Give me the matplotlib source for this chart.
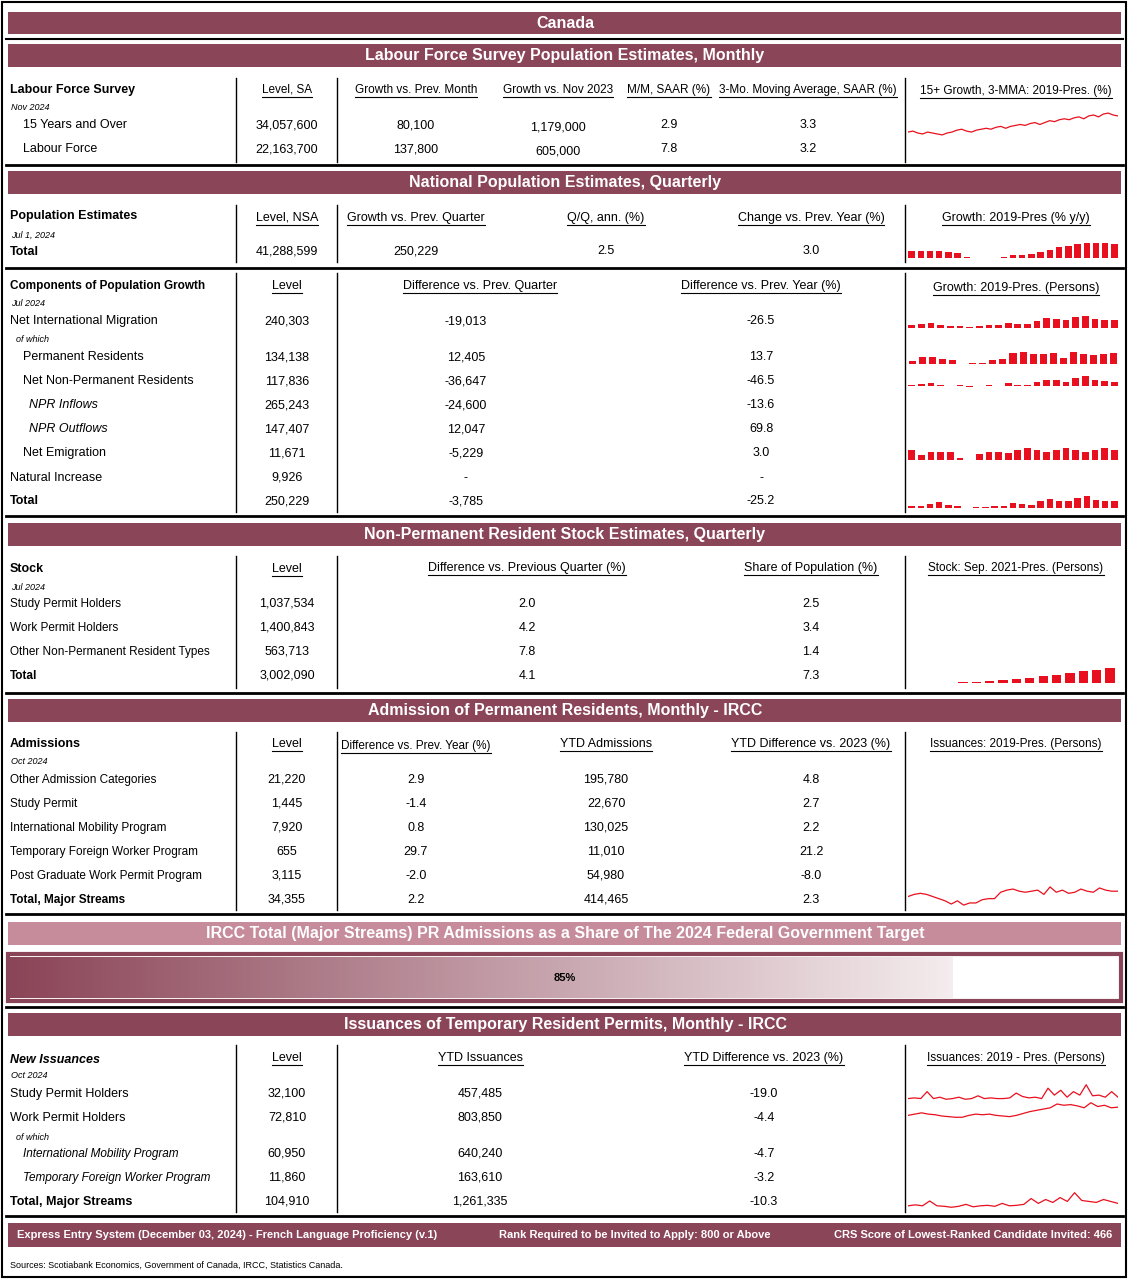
import numpy as np
import matplotlib.pyplot as plt
from matplotlib.colors import LinearSegmentedColormap
from matplotlib.patches import Rectangle

plt.rcParams['font.family'] = ['Liberation Sans', 'DejaVu Sans']

W, H = 1129, 1280
DARK = '#8B4558'
LIGHT = '#C68C9C'
RED = '#E8101E'
FS = 9

# ---- data ----
lfs_rows = ['15 Years and Over', 'Labour Force']
lfs_level = ['34,057,600', '22,163,700']
lfs_mom = ['80,100', '137,800']
lfs_nov = ['1,179,000', '605,000']
lfs_saar = ['2.9', '7.8']
lfs_mma = ['3.3', '3.2']
lfs_spark = [1.6, 1.7, 1.5, 1.4, 1.6, 1.5, 1.4, 1.3, 1.5, 1.6, 1.8, 1.9, 1.7, 1.6, 1.8, 1.9,
             2.0, 1.9, 2.1, 2.2, 2.0, 2.2, 2.3, 2.4, 2.3, 2.5, 2.6, 2.4, 2.6, 2.8, 2.7, 2.9,
             3.0, 2.9, 3.1, 3.2, 3.0, 3.3, 3.4, 3.2, 3.5, 3.6, 3.4, 3.3]

pop_growth_yy = [1.4, 1.4, 1.4, 1.5, 1.3, 1.1, 0.3, 0.05, 0.0, 0.0, 0.2, 0.6, 0.7, 0.9,
                 1.3, 1.7, 2.3, 2.6, 2.9, 3.2, 3.2, 3.2, 3.0]

comp_rows = ['Net International Migration', 'of which', 'Permanent Residents',
             'Net Non-Permanent Residents', 'NPR Inflows', 'NPR Outflows',
             'Net Emigration', 'Natural Increase', 'Total']
comp_level = ['240,303', '', '134,138', '117,836', '265,243', '147,407', '11,671', '9,926', '250,229']
comp_dq = ['-19,013', '', '12,405', '-36,647', '-24,600', '12,047', '-5,229', '-', '-3,785']
comp_dy = ['-26.5', '', '13.7', '-46.5', '-13.6', '69.8', '3.0', '-', '-25.2']
spark_nim = [4, 5, 6, 4, 3, 2, 1, 3, 4, 4, 7, 5, 5, 9, 13, 11, 10, 14, 16, 11, 10, 10]
spark_pr = [4, 8, 9, 6, 5, 0, 1, 1, 5, 6, 13, 14, 12, 12, 13, 7, 15, 12, 11, 12, 13]
spark_npr = [1, 2, 3, 1, 0, 1, -2, 0, 1, 0, 3, 1, 1, 5, 7, 7, 4, 9, 12, 7, 6, 5]
spark_emig = [10, 5, 8, 8, 8, 2, 0, 6, 8, 8, 7, 10, 13, 10, 8, 10, 13, 10, 8, 10, 13, 10]
spark_total = [2, 3, 5, 7, 4, 3, 0, 1, 1, 2, 3, 6, 5, 4, 9, 11, 9, 8, 12, 15, 10, 9, 9]

npr_rows = ['Study Permit Holders', 'Work Permit Holders', 'Other Non-Permanent Resident Types', 'Total']
npr_level = ['1,037,534', '1,400,843', '563,713', '3,002,090']
npr_diff = ['2.0', '4.2', '7.8', '4.1']
npr_share = ['2.5', '3.4', '1.4', '7.3']
npr_stock = [0.3, 0.4, 0.6, 0.8, 1.2, 1.5, 2.0, 2.4, 2.9, 3.4, 3.8, 4.2]

adm_rows = ['Other Admission Categories', 'Study Permit', 'International Mobility Program',
            'Temporary Foreign Worker Program', 'Post Graduate Work Permit Program', 'Total, Major Streams']
adm_level = ['21,220', '1,445', '7,920', '655', '3,115', '34,355']
adm_diff = ['2.9', '-1.4', '0.8', '29.7', '-2.0', '2.2']
adm_ytd = ['195,780', '22,670', '130,025', '11,010', '54,980', '414,465']
adm_ytdd = ['4.8', '2.7', '2.2', '21.2', '-8.0', '2.3']
adm_spark = [26, 28, 29, 28, 26, 24, 22, 19, 22, 18, 20, 20, 23, 24, 24, 30, 32, 33, 31, 30,
             31, 32, 28, 35, 30, 32, 29, 30, 33, 31, 30, 34, 32, 31, 31]
target_share = 85

iss_rows = ['Study Permit Holders', 'Work Permit Holders', 'of which', 'International Mobility Program',
            'Temporary Foreign Worker Program', 'Total, Major Streams']
iss_level = ['32,100', '72,810', '', '60,950', '11,860', '104,910']
iss_ytd = ['457,485', '803,850', '', '640,240', '163,610', '1,261,335']
iss_ytdd = ['-19.0', '-4.4', '', '-4.7', '-3.2', '-10.3']
iss_study = [20, 21, 20, 30, 20, 22, 19, 20, 22, 19, 20, 24, 20, 21, 20, 20, 21, 28, 23, 21, 22,
             20, 35, 25, 32, 22, 30, 25, 40, 24, 25, 22, 30, 22]
iss_work = [40, 42, 44, 42, 41, 39, 38, 37, 37, 40, 42, 41, 42, 40, 39, 38, 40, 43, 46, 48, 50,
            52, 58, 56, 57, 55, 52, 60, 54, 56, 52, 53]
iss_total = [55, 57, 55, 65, 55, 54, 52, 54, 58, 53, 55, 56, 54, 60, 55, 56, 58, 70, 60, 68, 62,
             72, 64, 82, 66, 64, 62, 68, 64, 60]

# ---- figure ----
fig = plt.figure(figsize=(W / 100, H / 100), dpi=100)
ax = fig.add_axes([0, 0, 1, 1])
ax.set_xlim(0, W)
ax.set_ylim(H, 0)
ax.axis('off')

ax.add_patch(Rectangle((2, 2), W - 5, H - 5, fill=False, lw=1.5, ec='black'))

underlined = []


def band(y0, y1, text, color=DARK):
    ax.add_patch(Rectangle((8, y0), 1113, y1 - y0, color=color, lw=0))
    ax.text(565, (y0 + y1) / 2, text, color='white', ha='center', va='center',
            fontsize=11.5, fontweight='bold')


def hline(y, lw=2):
    ax.plot([6, 1123], [y, y], color='black', lw=lw)


def vlines(y0, y1, xs=(236, 337, 905)):
    for x in xs:
        ax.plot([x, x], [y0, y1], color='black', lw=1)


def head(x, y, s, fs=FS):
    t = ax.text(x, y, s, ha='center', va='center', fontsize=fs)
    underlined.append(t)


def txt(x, y, s, ha='center', **kw):
    kw.setdefault('fontsize', FS)
    ax.text(x, y, s, ha=ha, va='center', **kw)


def spark_axes(x0, y0, x1, y1):
    a = fig.add_axes([x0 / W, 1 - y1 / H, (x1 - x0) / W, (y1 - y0) / H])
    a.axis('off')
    return a


def bars(a, vals):
    a.bar(range(len(vals)), vals, width=0.7, color=RED)
    a.set_xlim(-0.6, len(vals) - 0.4)


def line(a, vals):
    a.plot(range(len(vals)), vals, color=RED, lw=0.9)
    a.set_xlim(0, len(vals) - 1)


band(12, 34, 'Canada')
ax.plot([6, 1123], [39, 39], color='black', lw=1.5)
band(44, 67, 'Labour Force Survey Population Estimates, Monthly')

# LFS
vlines(78, 162)
txt(10, 90, 'Labour Force Survey', ha='left', fontweight='bold')
txt(11, 108, 'Nov 2024', ha='left', fontsize=6.5, style='italic')
for h, x in zip(['Level, SA', 'Growth vs. Prev. Month', 'Growth vs. Nov 2023', 'M/M, SAAR (%)',
                 '3-Mo. Moving Average, SAAR (%)'], [287, 416, 558, 669, 808]):
    head(x, 90, h, fs=8.5)
head(1016, 91, '15+ Growth, 3-MMA: 2019-Pres. (%)', fs=8.5)
for i, y in enumerate([125, 149]):
    txt(23, y, lfs_rows[i], ha='left')
    txt(287, y, lfs_level[i])
    txt(416, y, lfs_mom[i])
    txt(558, y + 2, lfs_nov[i])
    txt(669, y, lfs_saar[i])
    txt(808, y, lfs_mma[i])
line(spark_axes(908, 112, 1118, 136), lfs_spark)
hline(165)

band(171, 194, 'National Population Estimates, Quarterly')
vlines(205, 262)
txt(10, 216, 'Population Estimates', ha='left', fontweight='bold')
txt(11, 235, 'Jul 1, 2024', ha='left', fontsize=6.5, style='italic')
for h, x in zip(['Level, NSA', 'Growth vs. Prev. Quarter', 'Q/Q, ann. (%)', 'Change vs. Prev. Year (%)'],
                [287, 416, 606, 811]):
    head(x, 218, h)
head(1016, 218, 'Growth: 2019-Pres (% y/y)')
txt(10, 252, 'Total', ha='left', fontweight='bold')
txt(287, 252, '41,288,599')
txt(416, 252, '250,229')
txt(606, 251, '2.5')
txt(811, 251, '3.0')
bars(spark_axes(906, 242, 1120, 258), pop_growth_yy)
hline(268)

vlines(273, 512)
txt(10, 286, 'Components of Population Growth', ha='left', fontweight='bold', fontsize=8.5)
txt(11, 304, 'Jul 2024', ha='left', fontsize=6.5, style='italic')
head(287, 286, 'Level')
head(480, 286, 'Difference vs. Prev. Quarter')
head(761, 286, 'Difference vs. Prev. Year (%)')
head(1016, 288, 'Growth: 2019-Pres. (Persons)')
comp_y = [321, 340, 357, 381, 405, 429, 453, 478, 501]
for i, y in enumerate(comp_y):
    name = comp_rows[i]
    if name == 'of which':
        txt(16, y, name, ha='left', fontsize=6.5, style='italic')
        continue
    if name in ('Net International Migration', 'Natural Increase'):
        x0, kw = 10, {}
    elif name == 'Total':
        x0, kw = 10, {'fontweight': 'bold'}
    elif name.startswith('NPR'):
        x0, kw = 29, {'style': 'italic'}
    else:
        x0, kw = 23, {}
    txt(x0, y, name, ha='left', **kw)
    txt(287, y, comp_level[i])
    txt(466, y, comp_dq[i])
    txt(761, y, comp_dy[i])
for vals, y in zip([spark_nim, spark_pr, spark_npr, spark_emig, spark_total], [321, 357, 381, 453, 501]):
    bars(spark_axes(906, y - 6, 1120, y + 7), vals)
hline(516)

band(523, 546, 'Non-Permanent Resident Stock Estimates, Quarterly')
vlines(556, 688)
txt(10, 569, 'Stock', ha='left', fontweight='bold')
txt(11, 587, 'Jul 2024', ha='left', fontsize=6.5, style='italic')
head(287, 569, 'Level')
head(527, 568, 'Difference vs. Previous Quarter (%)')
head(811, 568, 'Share of Population (%)')
head(1016, 568, 'Stock: Sep. 2021-Pres. (Persons)', fs=8.5)
for i, y in enumerate([604, 628, 652, 676]):
    txt(10, y, npr_rows[i], ha='left', fontweight='bold' if npr_rows[i] == 'Total' else 'normal',
        fontsize=8.5)
    txt(287, y, npr_level[i])
    txt(527, y, npr_diff[i])
    txt(811, y, npr_share[i])
a = spark_axes(955, 668, 1118, 683)
bars(a, npr_stock)
a.set_ylim(0, 4.3)
hline(693)

band(699, 722, 'Admission of Permanent Residents, Monthly - IRCC')
vlines(732, 910)
txt(10, 744, 'Admissions', ha='left', fontweight='bold')
txt(11, 762, 'Oct 2024', ha='left', fontsize=6.5, style='italic')
head(287, 744, 'Level')
head(416, 746, 'Difference vs. Prev. Year (%)', fs=8.5)
head(606, 744, 'YTD Admissions')
head(811, 744, 'YTD Difference vs. 2023 (%)')
head(1016, 744, 'Issuances: 2019-Pres. (Persons)', fs=8.5)
for i, y in enumerate([780, 804, 828, 852, 876, 900]):
    txt(10, y, adm_rows[i], ha='left', fontweight='bold' if i == 5 else 'normal', fontsize=8.5)
    txt(287, y, adm_level[i])
    txt(416, y, adm_diff[i])
    txt(606, y, adm_ytd[i])
    txt(811, y, adm_ytdd[i])
line(spark_axes(908, 886, 1118, 906), adm_spark)
hline(914)

band(922, 945, 'IRCC Total (Major Streams) PR Admissions as a Share of The 2024 Federal Government Target',
     color=LIGHT)
ax.add_patch(Rectangle((8, 954), 1113, 47, fill=False, ec=DARK, lw=3))
cmap = LinearSegmentedColormap.from_list('g', [DARK, '#F4ECEE'])
x_end = 10 + (1119 - 10) * target_share / 100
ax.imshow(np.linspace(0, 1, 256)[None, :], cmap=cmap, aspect='auto',
          extent=[10, x_end, 998, 957], zorder=1)
ax.set_xlim(0, W)
ax.set_ylim(H, 0)
txt(565, 978, f'{target_share}%', fontweight='bold', fontsize=8)
hline(1007)

band(1013, 1036, 'Issuances of Temporary Resident Permits, Monthly - IRCC')
vlines(1045, 1212)
txt(10, 1060, 'New Issuances', ha='left', fontweight='bold', style='italic')
txt(11, 1076, 'Oct 2024', ha='left', fontsize=6.5, style='italic')
head(287, 1058, 'Level')
head(480, 1058, 'YTD Issuances')
head(764, 1058, 'YTD Difference vs. 2023 (%)')
head(1016, 1058, 'Issuances: 2019 - Pres. (Persons)', fs=8.5)
for i, y in enumerate([1094, 1118, 1137, 1154, 1178, 1202]):
    name = iss_rows[i]
    if name == 'of which':
        txt(16, y, name, ha='left', fontsize=6.5, style='italic')
        continue
    if i in (3, 4):
        txt(23, y, name, ha='left', style='italic', fontsize=8.5)
    else:
        txt(10, y, name, ha='left', fontweight='bold' if i == 5 else 'normal')
    txt(287, y, iss_level[i])
    txt(480, y, iss_ytd[i])
    txt(764, y, iss_ytdd[i])
for vals, y in zip([iss_study, iss_work, iss_total], [1094, 1112, 1202]):
    line(spark_axes(908, y - 10, 1118, y + 6), vals)
hline(1216)

ax.add_patch(Rectangle((8, 1223), 1113, 24, color=DARK, lw=0))
txt(17, 1235, 'Express Entry System (December 03, 2024) - French Language Proficiency (v.1)', ha='left',
    color='white', fontweight='bold', fontsize=8)
txt(635, 1235, 'Rank Required to be Invited to Apply: 800 or Above', color='white', fontweight='bold',
    fontsize=8)
txt(1112, 1235, 'CRS Score of Lowest-Ranked Candidate Invited: 466', ha='right',
    color='white', fontweight='bold', fontsize=8)
txt(10, 1265, 'Sources: Scotiabank Economics, Government of Canada, IRCC, Statistics Canada.',
    ha='left', fontsize=6.5)

# underline the column headers
fig.canvas.draw()
r = fig.canvas.get_renderer()
inv = ax.transData.inverted()
for t in underlined:
    bb = t.get_window_extent(r)
    (xa, ya), (xb, yb) = inv.transform([(bb.x0, bb.y0), (bb.x1, bb.y1)])
    ax.plot([xa, xb], [ya + 1, ya + 1], color='black', lw=0.8)

fig.savefig('out.png', dpi=100)
